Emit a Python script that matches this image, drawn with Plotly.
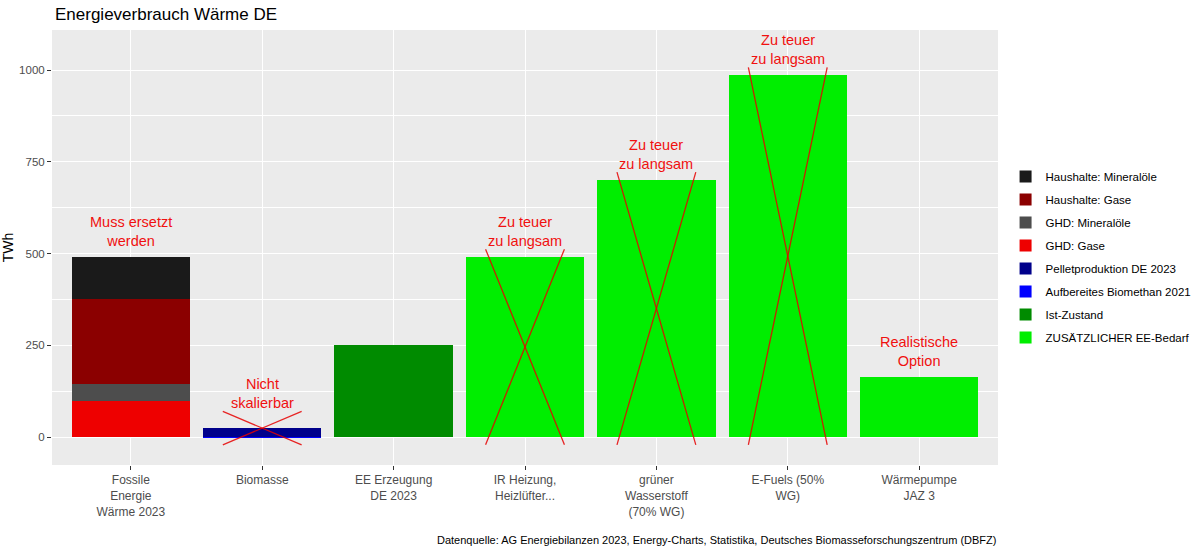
import plotly.graph_objects as go

categories = ["Fossile<br>Energie<br>Wärme 2023", "Biomasse", "EE Erzeugung<br>DE 2023",
              "IR Heizung,<br>Heizlüfter...", "grüner<br>Wasserstoff<br>(70% WG)",
              "E-Fuels (50%<br>WG)", "Wärmepumpe<br>JAZ 3"]

# series values (TWh), None where a series has no bar
ghd_gase = [97, None, None, None, None, None, None]
ghd_mineraloele = [49, None, None, None, None, None, None]
haushalte_gase = [230, None, None, None, None, None, None]
haushalte_mineraloele = [115, None, None, None, None, None, None]
biomethan = [None, 1, None, None, None, None, None]
pellet = [None, 25, None, None, None, None, None]
ist_zustand = [None, None, 251, None, None, None, None]
zusaetzlich = [None, None, None, 491, 701, 986, 163]

labels = ["Muss ersetzt<br>werden", "Nicht<br>skalierbar", None, "Zu teuer<br>zu langsam",
          "Zu teuer<br>zu langsam", "Zu teuer<br>zu langsam", "Realistische<br>Option"]
crossed = [False, True, False, True, True, True, False]

series = [
    ("GHD: Gase", ghd_gase, "#EE0000", 4),
    ("GHD: Mineralöle", ghd_mineraloele, "#4D4D4D", 3),
    ("Haushalte: Gase", haushalte_gase, "#8B0000", 2),
    ("Haushalte: Mineralöle", haushalte_mineraloele, "#1A1A1A", 1),
    ("Aufbereites Biomethan 2021", biomethan, "#0000FF", 6),
    ("Pelletproduktion DE 2023", pellet, "#00008B", 5),
    ("Ist-Zustand", ist_zustand, "#008B00", 7),
    ("ZUSÄTZLICHER EE-Bedarf", zusaetzlich, "#00EE00", 8),
]

fig = go.Figure()
for name, vals, col, rank in series:
    fig.add_trace(go.Bar(x=categories, y=vals, name=name, marker_color=col,
                         marker_line_width=0, width=0.9, legendrank=rank,
                         legendgroup=name))

totals = []
for i in range(len(categories)):
    totals.append(sum((s[1][i] or 0) for s in series))

for i, t in enumerate(totals):
    if labels[i]:
        off = 92 if t < 100 else 69
        fig.add_annotation(x=i, y=t + off, text=labels[i], showarrow=False,
                           font=dict(size=14.5, color="#F01010"), xref="x", yref="y")
    if crossed[i]:
        top = t + (44 if t < 100 else 21)
        for x0, x1 in [(i - 0.3, i + 0.3), (i + 0.3, i - 0.3)]:
            fig.add_shape(type="line", x0=x0, x1=x1, y0=top, y1=-21, xref="x", yref="y",
                          line=dict(color="rgba(230,0,0,0.85)", width=1.3))

fig.add_annotation(text="Datenquelle: AG Energiebilanzen 2023, Energy-Charts, Statistika, Deutsches Biomasseforschungszentrum (DBFZ)",
                   xref="paper", yref="paper", x=1, y=-0.172, xanchor="right", yanchor="middle",
                   showarrow=False, font=dict(size=11, color="black"))

fig.update_layout(
    width=1200, height=554,
    barmode="stack",
    paper_bgcolor="white", plot_bgcolor="#EBEBEB",
    margin=dict(l=52, r=202, t=30, b=89, autoexpand=False),
    font=dict(family="Liberation Sans, Arial, sans-serif", color="#4D4D4D"),
    title=dict(text="Energieverbrauch Wärme DE", x=55 / 1200, xanchor="left",
               y=1 - 14 / 554, yanchor="middle", font=dict(size=17, color="black")),
    showlegend=True,
    legend=dict(x=1.008, xanchor="left", y=0.478, yanchor="middle", traceorder="grouped",
                font=dict(size=11.5, color="black"), tracegroupgap=4,
                itemwidth=30, bgcolor="rgba(0,0,0,0)"),
    bargap=0,
)
fig.update_xaxes(range=[-0.6, 6.6], showgrid=True, gridcolor="white", gridwidth=1.2,
                 ticks="outside", ticklen=4, tickcolor="#333333", automargin=False,
                 tickfont=dict(size=12, color="#4D4D4D"), zeroline=False)
fig.update_yaxes(range=[-76, 1109], tickvals=[0, 250, 500, 750, 1000], showgrid=True,
                 gridcolor="white", gridwidth=1.2, ticks="outside", ticklen=4,
                 tickcolor="#333333", tickfont=dict(size=11.5, color="#4D4D4D"),
                 zeroline=False, automargin=False,
                 minor=dict(tickvals=[125, 375, 625, 875], showgrid=True, gridcolor="white",
                            gridwidth=0.6, ticks=""),
                 title=dict(text="TWh", font=dict(size=14, color="black"), standoff=3))

fig.write_html("out.html")
